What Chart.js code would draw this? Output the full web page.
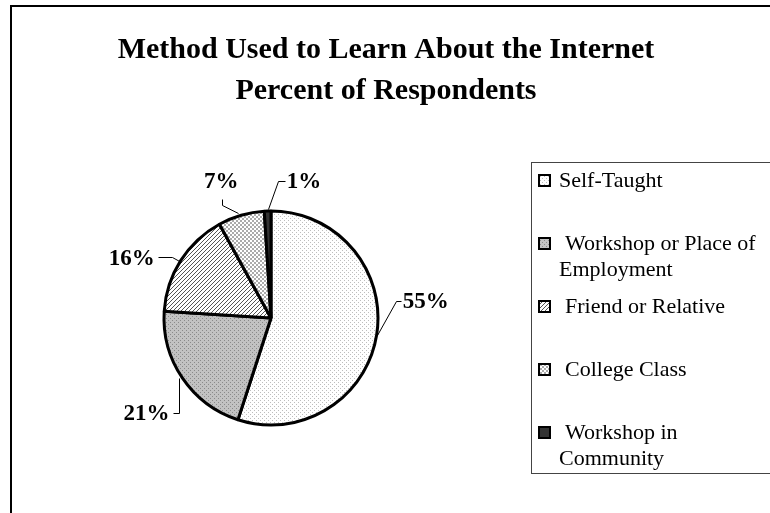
<!DOCTYPE html>
<html>
<head>
<meta charset="utf-8">
<script src="https://cdn.jsdelivr.net/npm/chart.js@4/dist/chart.umd.min.js"></script>
<style>
  html, body { margin: 0; padding: 0; background: #fff; }
  #c { display: block; }
</style>
</head>
<body>
<canvas id="c" width="770" height="513"></canvas>
<script>
// ---- data ----
const titleLines = ['Method Used to Learn About the Internet', 'Percent of Respondents'];
const categories = [
  ['Self-Taught'],
  ['Workshop or Place of', 'Employment'],
  ['Friend or Relative'],
  ['College Class'],
  ['Workshop in', 'Community']
];
const percentValues = [55, 21, 16, 7, 1];

// ---- fills (small repeating tiles) ----
const canvas = document.getElementById('c');
const ctx = canvas.getContext('2d');
const SERIF = '"Liberation Serif", "Times New Roman", serif';

function tile(size, bg, paint) {
  const t = document.createElement('canvas');
  t.width = t.height = size;
  const g = t.getContext('2d');
  g.fillStyle = bg;
  g.fillRect(0, 0, size, size);
  paint(g);
  return ctx.createPattern(t, 'repeat');
}
const fills = [
  // light stipple
  tile(4, '#ffffff', g => { g.fillStyle = '#bdbdbd'; g.fillRect(0, 0, 1, 1); g.fillRect(2, 2, 1, 1); }),
  // grey with darker dots
  tile(4, '#c2c2c2', g => { g.fillStyle = '#8a8a8a'; g.fillRect(0, 0, 1, 1); g.fillRect(2, 2, 1, 1); }),
  // diagonal hatch
  tile(4, '#ffffff', g => { g.fillStyle = '#555555'; for (let k = 0; k < 4; k++) g.fillRect(k, 3 - k, 1, 1); }),
  // small checker
  tile(4, '#ffffff', g => { g.fillStyle = '#ababab'; g.fillRect(0, 0, 2, 2); g.fillRect(2, 2, 2, 2); }),
  // dark solid
  '#333333'
];

// ---- leader lines for the percent labels, relative to each slice's outer edge midpoint ----
const leaders = [
  { pts: [[0, 0], [19, -34], [24, -34]],     text: [26, -27],  align: 'left' },
  { pts: [[-4, 0], [-4, 35], [-10, 35]],     text: [-13, 42],  align: 'right' },
  { pts: [[0, 1], [-9, -4], [-23, -4]],      text: [-26, 4],   align: 'right' },
  { pts: [[-3, -2], [-19, -10], [-19, -16]], text: [-20, -27], align: 'center' },
  { pts: [[0, -2], [10, -30], [17, -30]],    text: [19, -23],  align: 'left' }
];

const framePlugin = {
  id: 'frame',
  beforeDraw(chart) {
    const c = chart.ctx;
    c.save();
    c.fillStyle = '#fff';
    c.fillRect(0, 0, chart.width, chart.height);
    c.strokeStyle = '#000';
    c.lineWidth = 2;
    c.beginPath();
    c.moveTo(11, chart.height);
    c.lineTo(11, 6);
    c.lineTo(chart.width, 6);
    c.stroke();
    c.restore();
  }
};

const titlePlugin = {
  id: 'twoLineTitle',
  afterDraw(chart) {
    const c = chart.ctx;
    c.save();
    c.fillStyle = '#000';
    c.font = 'bold 30px ' + SERIF;
    c.textAlign = 'center';
    c.textBaseline = 'alphabetic';
    titleLines.forEach((t, i) => c.fillText(t, 386, 58 + i * 41));
    c.restore();
  }
};

const labelPlugin = {
  id: 'leaderLabels',
  afterDatasetsDraw(chart) {
    const c = chart.ctx;
    const meta = chart.getDatasetMeta(0);
    const values = chart.data.datasets[0].data;
    c.save();
    c.strokeStyle = '#000';
    c.fillStyle = '#000';
    c.lineWidth = 1;
    c.font = 'bold 23px ' + SERIF;
    c.textBaseline = 'alphabetic';
    meta.data.forEach((arc, i) => {
      const p = arc.getProps(['x', 'y', 'startAngle', 'endAngle', 'outerRadius'], true);
      const mid = (p.startAngle + p.endAngle) / 2;
      const ex = p.x + Math.cos(mid) * p.outerRadius;
      const ey = p.y + Math.sin(mid) * p.outerRadius;
      const L = leaders[i];
      c.beginPath();
      L.pts.forEach(([dx, dy], k) => {
        const px = Math.round(ex + dx) + 0.5, py = Math.round(ey + dy) + 0.5;
        k ? c.lineTo(px, py) : c.moveTo(px, py);
      });
      c.stroke();
      c.textAlign = L.align;
      c.fillText(values[i] + '%', ex + L.text[0], ey + L.text[1]);
    });
    c.restore();
  }
};

const legendPlugin = {
  id: 'boxLegend',
  afterDraw(chart) {
    const c = chart.ctx;
    const ds = chart.data.datasets[0];
    c.save();
    c.strokeStyle = '#444';
    c.lineWidth = 1;
    c.strokeRect(531.5, 162.5, 300, 311);
    c.font = '22px ' + SERIF;
    c.textBaseline = 'alphabetic';
    c.textAlign = 'left';
    chart.data.labels.forEach((lines, i) => {
      const base = 187 + i * 63;
      c.fillStyle = ds.backgroundColor[i];
      c.fillRect(538, base - 13, 13, 13);
      c.strokeStyle = '#000';
      c.lineWidth = 2;
      c.strokeRect(539, base - 12, 11, 11);
      c.fillStyle = '#000';
      lines.forEach((ln, k) => {
        c.fillText(ln, k === 0 && i > 0 ? 565 : 559, base + k * 26);
      });
    });
    c.restore();
  }
};

new Chart(ctx, {
  type: 'pie',
  data: {
    labels: categories,
    datasets: [{
      data: percentValues,
      backgroundColor: fills,
      borderColor: '#000',
      borderWidth: 3,
      borderJoinStyle: 'bevel'
    }]
  },
  options: {
    responsive: false,
    animation: false,
    events: [],
    radius: 107,
    layout: { padding: { left: 151, right: 379, top: 198, bottom: 75 } },
    plugins: {
      legend: { display: false },
      title: { display: false },
      tooltip: { enabled: false }
    }
  },
  plugins: [framePlugin, titlePlugin, labelPlugin, legendPlugin]
});
</script>
</body>
</html>
